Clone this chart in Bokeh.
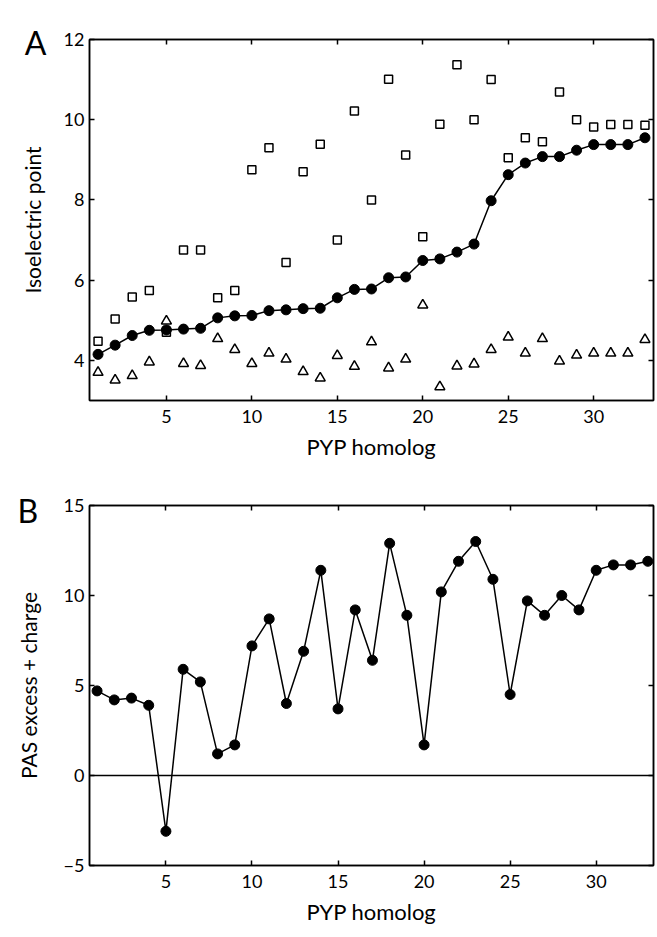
from bokeh.plotting import figure
from bokeh.models import Range1d, FixedTicker, LinearAxis, Span, Label, ColumnDataSource
from bokeh.layouts import column
from bokeh.embed import file_html
from bokeh.resources import INLINE

# ---------------- data ----------------
homolog = list(range(1, 34))

# Panel A: isoelectric points
pi_circles = [4.15, 4.38, 4.62, 4.75, 4.76, 4.78, 4.80, 5.06, 5.11, 5.12, 5.24, 5.26,
              5.29, 5.30, 5.56, 5.77, 5.78, 6.06, 6.08, 6.49, 6.53, 6.70, 6.90, 7.98,
              8.63, 8.92, 9.08, 9.08, 9.24, 9.38, 9.38, 9.38, 9.55]
pi_squares = [4.48, 5.03, 5.58, 5.74, 4.70, 6.75, 6.75, 5.56, 5.74, 8.75, 9.30, 6.44,
              8.70, 9.39, 7.00, 10.22, 8.00, 11.01, 9.12, 7.08, 9.89, 11.37, 10.00, 11.00,
              9.05, 9.55, 9.45, 10.69, 10.00, 9.82, 9.88, 9.88, 9.86]
pi_triangles = [3.70, 3.51, 3.62, 3.96, 4.98, 3.92, 3.87, 4.54, 4.27, 3.92, 4.18, 4.03,
                3.72, 3.56, 4.12, 3.85, 4.46, 3.81, 4.03, 5.38, 3.34, 3.86, 3.91, 4.27,
                4.58, 4.18, 4.54, 3.98, 4.13, 4.18, 4.18, 4.18, 4.52]

# Panel B: PAS excess + charge
pas_charge = [4.7, 4.2, 4.3, 3.9, -3.1, 5.9, 5.2, 1.2, 1.7, 7.2, 8.7, 4.0,
              6.9, 11.4, 3.7, 9.2, 6.4, 12.9, 8.9, 1.7, 10.2, 11.9, 13.0, 10.9,
              4.5, 9.7, 8.9, 10.0, 9.2, 11.4, 11.7, 11.7, 11.9]

x_ticks = [5, 10, 15, 20, 25, 30]
a_y_ticks = [4, 6, 8, 10, 12]
b_y_ticks = [-5, 0, 5, 10, 15]

FONT = "Lato"
LW = 1.5


def style(p, xt, yt, ylabel, ylab_standoff):
    p.outline_line_color = "black"
    p.outline_line_width = LW
    p.grid.visible = False
    p.background_fill_color = "white"
    p.border_fill_color = "white"
    bottom = p.below[0]
    left = p.left[0]
    bottom.ticker = FixedTicker(ticks=xt)
    left.ticker = FixedTicker(ticks=yt)
    bottom.axis_label = "PYP homolog"
    left.axis_label = ylabel
    top = LinearAxis(ticker=FixedTicker(ticks=xt),
                     major_label_overrides={t: "" for t in xt})
    right = LinearAxis(ticker=FixedTicker(ticks=yt),
                       major_label_overrides={t: "" for t in yt})
    p.add_layout(top, "above")
    p.add_layout(right, "right")
    for ax in [bottom, left, top, right]:
        ax.axis_line_color = "black"
        ax.axis_line_width = LW
        ax.major_tick_line_color = "black"
        ax.major_tick_line_width = LW
        ax.major_tick_in = 5
        ax.major_tick_out = 0
        ax.minor_tick_line_color = None
        ax.major_label_text_font = FONT
        ax.major_label_text_font_size = "18px"
        ax.major_label_text_color = "black"
        ax.axis_label_text_font = FONT
        ax.axis_label_text_font_size = "21px"
        ax.axis_label_text_font_style = "normal"
        ax.axis_label_text_color = "black"
    top.major_label_standoff = 0
    right.major_label_standoff = 0
    bottom.major_label_standoff = 9
    bottom.axis_label_standoff = 7
    bottom.axis_label_text_font_size = "22px"
    left.major_label_standoff = 5
    left.axis_label_standoff = ylab_standoff


# ---------------- panel A ----------------
pa = figure(width=657, height=466, x_range=Range1d(0.5, 33.5), y_range=Range1d(3, 12),
            output_backend="svg", toolbar_location=None,
            min_border_left=79, min_border_right=4, min_border_top=39, min_border_bottom=66)
style(pa, x_ticks, a_y_ticks, "Isoelectric point", 16)

src_a = ColumnDataSource(dict(x=homolog, c=pi_circles, s=pi_squares, t=pi_triangles))
pa.scatter("x", "s", source=src_a, marker="square", size=8, fill_color=None,
           line_color="black", line_width=LW)
pa.scatter("x", "t", source=src_a, marker="triangle", size=10, fill_color=None,
           line_color="black", line_width=LW)
pa.line("x", "c", source=src_a, line_color="black", line_width=LW)
pa.scatter("x", "c", source=src_a, marker="circle", size=10, fill_color="black",
           line_color="black")
# panel letter placed in a side panel so that it is not clipped to the frame
pa.add_layout(Label(x=-3.29, y=11.93, text="A",
                    text_font=FONT, text_font_size="32px", text_color="black",
                    text_line_height=0.6,
                    text_baseline="alphabetic", text_align="left"), "above")

# ---------------- panel B ----------------
pb = figure(width=657, height=471, x_range=Range1d(0.56, 33.33), y_range=Range1d(-5, 15),
            output_backend="svg", toolbar_location=None,
            min_border_left=89, min_border_right=4, min_border_top=38, min_border_bottom=72)
style(pb, x_ticks, b_y_ticks, "PAS excess + charge", 20)

pb.add_layout(Span(location=0, dimension="width", line_color="black", line_width=LW))
src_b = ColumnDataSource(dict(x=homolog, y=pas_charge))
pb.line("x", "y", source=src_b, line_color="black", line_width=LW)
pb.scatter("x", "y", source=src_b, marker="circle", size=10, fill_color="black",
           line_color="black")
pb.add_layout(Label(x=-3.63, y=14.74, text="B",
                    text_font=FONT, text_font_size="32px", text_color="black",
                    text_line_height=0.6,
                    text_baseline="alphabetic", text_align="left"), "above")

layout = column(pa, pb)
open("out.html", "w").write(file_html(layout, INLINE))
